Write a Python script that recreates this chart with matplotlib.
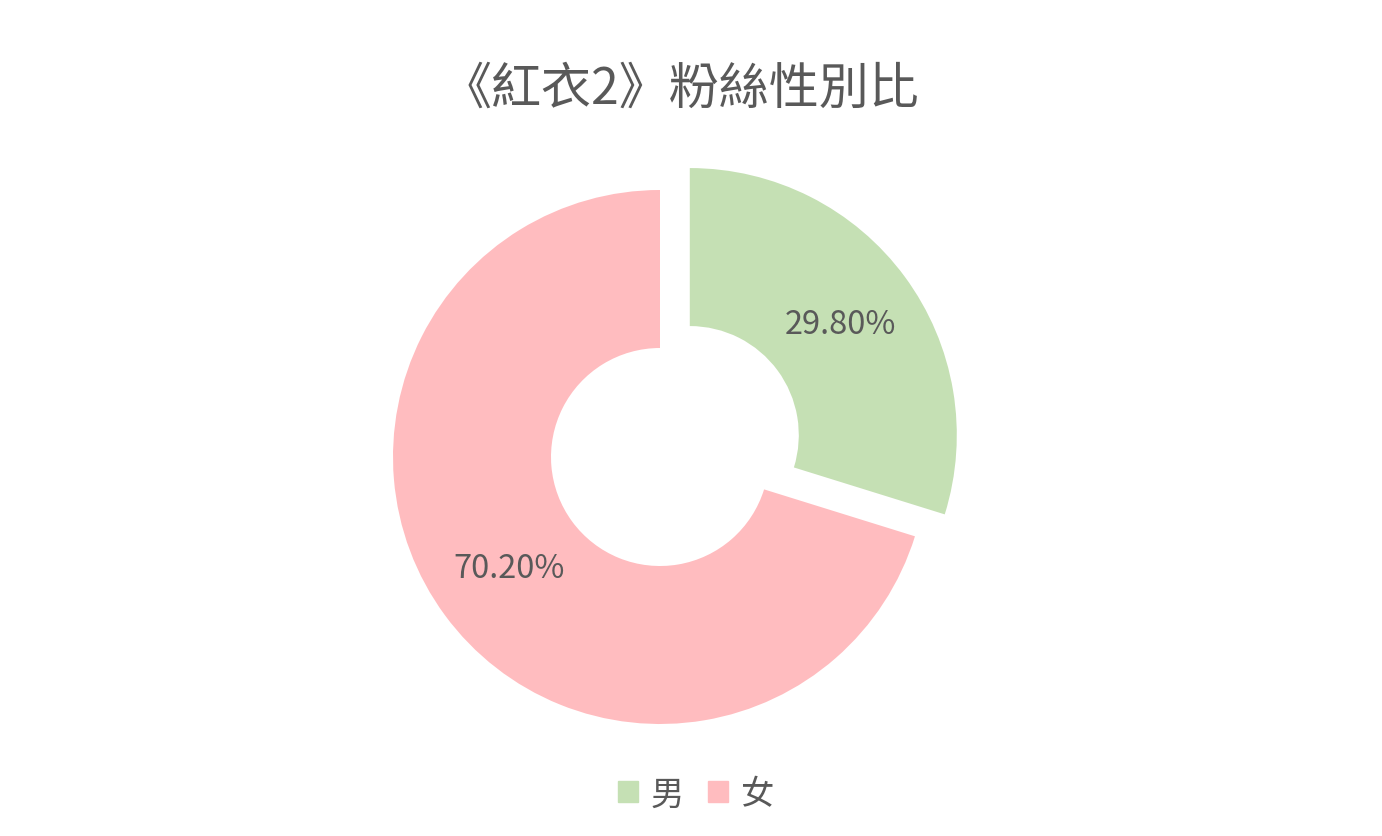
import matplotlib.pyplot as plt
from matplotlib.patches import Patch

plt.rcParams['font.family'] = ['Noto Sans CJK TC', 'DejaVu Sans']

title = "《紅衣2》粉絲性別比"
labels = ["男", "女"]
values = [29.8, 70.2]
colors = ["#C5E0B4", "#FFBCBF"]
text_color = "#595959"

fig = plt.figure(figsize=(13.82, 8.37), dpi=100)
ax = fig.add_axes([0, 0, 1, 1])

wedges, texts, autotexts = ax.pie(
    values, colors=colors, startangle=90, counterclock=False,
    center=(660, 837 - 458), radius=267, explode=[37, 0],
    wedgeprops=dict(width=158, linewidth=0),
    autopct="%.2f%%", pctdistance=0.70, frame=True,
    textprops=dict(color=text_color, fontsize=23.5))
ax.set_xlim(0, 1382)
ax.set_ylim(0, 837)
ax.set_aspect("equal")
ax.axis("off")

fig.text(680 / 1382, 1 - 90 / 837, title, ha="center", va="center",
         fontsize=36, color=text_color)

handles = [Patch(color=c, label=l) for c, l in zip(colors, labels)]
fig.legend(handles=handles, loc="center", bbox_to_anchor=(696 / 1382, 1 - 795 / 837),
           ncol=2, frameon=False, handlelength=0.6, handleheight=0.6,
           handletextpad=0.4, columnspacing=0.7, labelcolor=text_color,
           prop=dict(size=24))

fig.savefig("out.png", dpi=100)
